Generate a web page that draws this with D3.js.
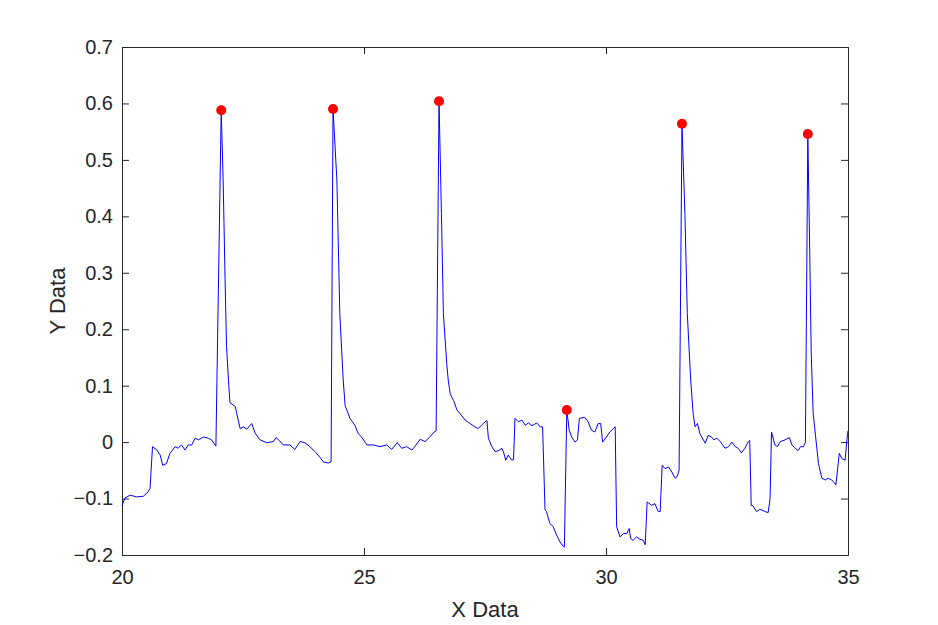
<!DOCTYPE html>
<html>
<head>
<meta charset="utf-8">
<script src="https://cdn.jsdelivr.net/npm/d3@7"></script>
<style>
  body { margin: 0; background: #fff; }
  .axis text { font-family: "Liberation Sans", Arial, sans-serif; font-size: 20px; fill: #262626; }
  .label { font-family: "Liberation Sans", Arial, sans-serif; font-size: 22px; fill: #262626; }
</style>
</head>
<body>
<div class="chart"></div>
<script>
// signal trace
const xData = [20.00,20.06,20.17,20.30,20.44,20.54,20.58,20.63,20.72,20.79,20.84,20.92,20.99,21.10,21.16,21.23,21.30,21.37,21.44,21.51,21.58,21.68,21.78,21.85,21.94,
  22.05,22.09,22.13,22.16,22.20,22.23,22.34,22.37,22.44,22.51,22.58,22.68,22.75,22.85,22.99,23.13,23.18,23.26,23.33,23.47,23.57,23.68,23.78,23.88,23.99,24.09,24.16,24.26,24.32,
  24.36,24.44,24.50,24.57,24.61,24.71,24.81,24.88,24.95,25.02,25.06,25.19,25.33,25.47,25.57,25.69,25.78,25.88,25.99,26.05,26.16,26.26,26.36,26.45,26.49,
  26.55,26.60,26.64,26.71,26.74,26.78,26.81,26.85,26.92,26.98,27.09,27.19,27.29,27.36,27.43,27.50,27.54,27.57,27.64,27.71,27.78,27.85,27.88,27.93,27.98,28.05,28.09,
  28.12,28.19,28.26,28.33,28.40,28.47,28.57,28.64,28.69,28.74,28.77,28.84,28.91,28.98,29.05,29.12,29.14,
  29.19,29.24,29.29,29.36,29.41,29.45,29.56,29.63,29.70,29.77,29.84,29.89,29.93,30.01,30.08,30.15,30.19,
  30.22,30.29,30.36,30.43,30.48,30.51,30.56,30.63,30.70,30.77,30.81,30.85,30.94,31.01,31.08,31.12,31.16,31.22,31.29,31.36,31.43,31.47,31.51,
  31.57,31.63,31.68,31.75,31.80,31.84,31.89,31.94,32.05,32.11,32.18,32.23,32.29,32.36,32.46,32.53,32.60,32.67,32.73,32.80,32.87,32.94,32.97,
  33.00,33.04,33.11,33.18,33.29,33.35,33.39,33.42,33.49,33.54,33.60,33.70,33.79,33.84,33.91,33.97,34.02,34.08,34.12,
  34.17,34.21,34.24,34.28,34.33,34.39,34.46,34.53,34.59,34.66,34.70,34.75,34.82,34.87,34.94,34.99,35.00];
const yData = [-0.113,-0.099,-0.094,-0.097,-0.096,-0.088,-0.082,-0.008,-0.014,-0.023,-0.041,-0.038,-0.020,-0.008,-0.011,-0.005,-0.014,-0.005,-0.005,0.007,0.004,0.009,0.007,0.004,-0.007,
  0.588,0.464,0.288,0.169,0.110,0.070,0.063,0.051,0.024,0.027,0.023,0.033,0.016,0.004,-0.001,0.001,0.008,0.002,-0.005,-0.005,-0.013,0.001,-0.001,-0.008,-0.017,-0.027,-0.035,-0.037,-0.035,
  0.590,0.464,0.228,0.110,0.065,0.042,0.030,0.015,0.009,0.000,-0.005,-0.005,-0.008,-0.005,-0.013,-0.001,-0.011,-0.008,-0.014,-0.008,0.005,0.001,0.009,0.018,0.020,
  0.604,0.405,0.228,0.139,0.110,0.086,0.080,0.074,0.057,0.051,0.039,0.033,0.027,0.024,0.030,0.036,0.038,0.007,-0.008,-0.017,-0.015,-0.011,-0.017,-0.032,-0.023,-0.032,-0.031,
  0.042,0.036,0.039,0.030,0.034,0.029,0.034,0.027,0.027,-0.120,-0.123,-0.144,-0.150,-0.165,-0.177,-0.185,-0.186,
  0.057,0.021,0.009,0.000,0.004,0.042,0.044,0.036,0.021,0.018,0.033,0.033,0.000,0.009,0.018,0.024,0.027,
  -0.150,-0.168,-0.162,-0.162,-0.153,-0.171,-0.174,-0.168,-0.172,-0.174,-0.182,-0.106,-0.112,-0.109,-0.123,-0.123,-0.041,-0.047,-0.044,-0.053,-0.064,-0.061,-0.050,
  0.564,0.405,0.228,0.110,0.051,0.027,0.033,0.015,-0.002,0.012,0.009,0.004,0.007,0.001,-0.011,-0.008,0.000,-0.008,-0.011,-0.019,-0.011,0.001,0.003,
  -0.112,-0.113,-0.123,-0.119,-0.123,-0.125,-0.100,0.018,-0.005,-0.008,0.001,0.004,0.008,-0.005,-0.011,-0.015,-0.008,-0.008,0.000,
  0.546,0.335,0.158,0.052,0.010,-0.038,-0.064,-0.067,-0.064,-0.067,-0.070,-0.076,-0.020,-0.029,-0.032,0.015,0.020];

// detected peaks
const peakX = [22.05, 24.36, 26.55, 29.19, 31.57, 34.17];
const peakY = [0.588, 0.590, 0.604, 0.057, 0.564, 0.546];

const xTicks = [20, 25, 30, 35];
const yTicks = [-0.2, -0.1, 0, 0.1, 0.2, 0.3, 0.4, 0.5, 0.6, 0.7];

const margin = {top: 47, right: 90, bottom: 70, left: 122};
const width = 938 - margin.left - margin.right;
const height = 625 - margin.top - margin.bottom;

const svg = d3.select(".chart")
    .append("svg")
    .attr("width", 938)
    .attr("height", 625)
    .append("g")
    .attr("transform", `translate(${margin.left},${margin.top})`);

const xScale = d3.scaleLinear().domain([20, 35]).range([0, width]);
const yScale = d3.scaleLinear().domain([-0.2, 0.7]).range([height, 0]);

// axes, ticks pointing inward
const fmt = d => d === 0 ? "0" : d3.format("")(d);
svg.append("g")
    .attr("class", "axis")
    .attr("transform", `translate(0,${height})`)
    .call(d3.axisBottom(xScale).tickValues(xTicks).tickSizeInner(-7).tickSizeOuter(0).tickPadding(15).tickFormat(fmt));
svg.append("g")
    .attr("class", "axis")
    .call(d3.axisLeft(yScale).tickValues(yTicks).tickSizeInner(-7).tickSizeOuter(0).tickPadding(9).tickFormat(fmt));
svg.append("g")
    .attr("class", "axis")
    .call(d3.axisTop(xScale).tickValues(xTicks).tickSizeInner(-7).tickSizeOuter(0).tickFormat(""));
svg.append("g")
    .attr("class", "axis")
    .attr("transform", `translate(${width},0)`)
    .call(d3.axisRight(yScale).tickValues(yTicks).tickSizeInner(-7).tickSizeOuter(0).tickFormat(""));

svg.selectAll(".axis path, .axis line").attr("stroke", "#262626").attr("stroke-width", 1);

// trace
const pts = xData.map((x, i) => [x, yData[i]]);
svg.append("path")
    .datum(pts)
    .attr("fill", "none")
    .attr("stroke", "#0000ff")
    .attr("stroke-width", 1)
    .attr("d", d3.line().x(d => xScale(d[0])).y(d => yScale(d[1])));

// peak markers
svg.selectAll(".peak")
    .data(peakX)
    .enter()
    .append("circle")
    .attr("class", "peak")
    .attr("cx", d => xScale(d))
    .attr("cy", (d, i) => yScale(peakY[i]))
    .attr("r", 5)
    .attr("fill", "#ff0000");

// labels
svg.append("text")
    .attr("class", "label")
    .attr("x", width / 2)
    .attr("y", height + 62)
    .attr("text-anchor", "middle")
    .text("X Data");

svg.append("text")
    .attr("class", "label")
    .attr("transform", `translate(-57,${height / 2}) rotate(-90)`)
    .attr("text-anchor", "middle")
    .text("Y Data");
</script>
</body>
</html>
